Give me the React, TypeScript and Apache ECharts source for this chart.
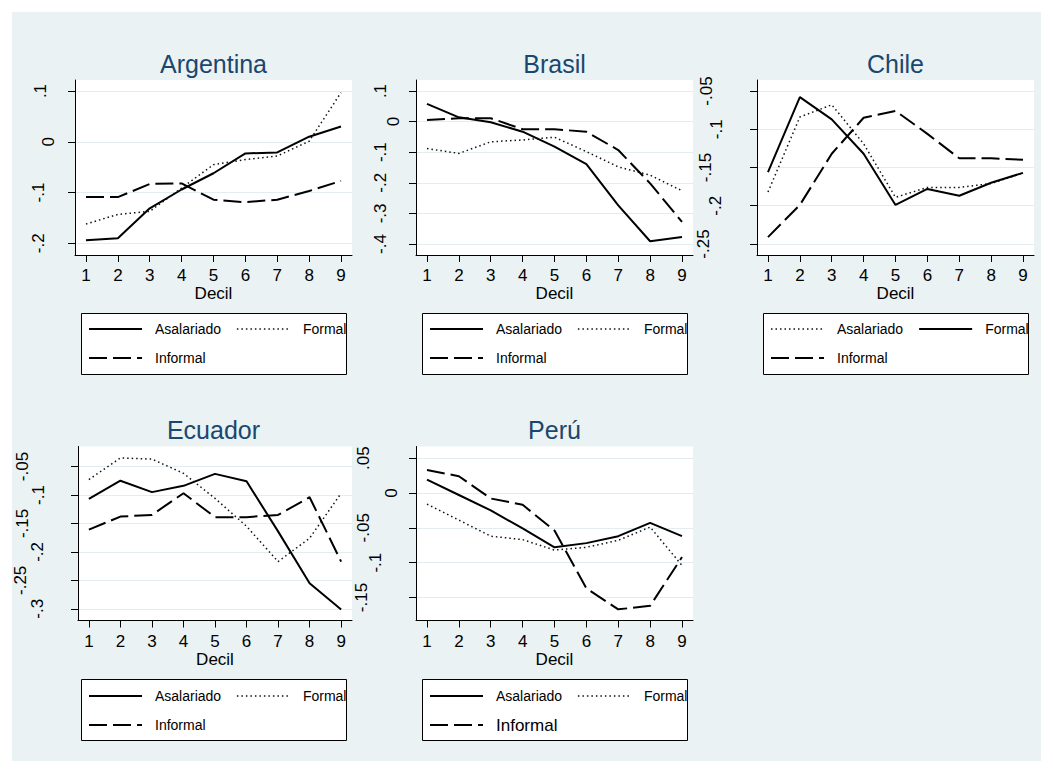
import React, { useEffect, useRef } from 'react';
import * as echarts from 'echarts';

// ---------------- DATA ----------------
const deciles = [1, 2, 3, 4, 5, 6, 7, 8, 9];

const argentinaAsalariado = [-0.194, -0.19, -0.131, -0.094, -0.062, -0.023, -0.021, 0.01, 0.03];
const argentinaFormal = [-0.162, -0.143, -0.137, -0.091, -0.045, -0.035, -0.028, 0.001, 0.097];
const argentinaInformal = [-0.109, -0.109, -0.083, -0.082, -0.114, -0.119, -0.114, -0.097, -0.077];
const argentinaTicks = [-0.2, -0.1, 0, 0.1];
const argentinaTickLabels = ['-.2', '-.1', '0', '.1'];

const brasilAsalariado = [0.058, 0.014, -0.002, -0.033, -0.082, -0.139, -0.274, -0.391, -0.377];
const brasilFormal = [-0.088, -0.104, -0.066, -0.06, -0.051, -0.098, -0.148, -0.175, -0.226];
const brasilInformal = [0.005, 0.011, 0.011, -0.025, -0.025, -0.033, -0.093, -0.202, -0.328];
const brasilTicks = [-0.4, -0.3, -0.2, -0.1, 0, 0.1];
const brasilTickLabels = ['-.4', '-.3', '-.2', '-.1', '0', '.1'];

const chileAsalariado = [-0.182, -0.084, -0.068, -0.119, -0.189, -0.176, -0.176, -0.171, -0.157];
const chileFormal = [-0.156, -0.058, -0.087, -0.132, -0.199, -0.178, -0.187, -0.17, -0.157];
const chileInformal = [-0.241, -0.199, -0.132, -0.085, -0.076, -0.106, -0.138, -0.138, -0.14];
const chileTicks = [-0.25, -0.2, -0.15, -0.1, -0.05];
const chileTickLabels = ['-.25', '-.2', '-.15', '-.1', '-.05'];

const ecuadorAsalariado = [-0.107, -0.075, -0.095, -0.084, -0.063, -0.076, -0.164, -0.255, -0.301];
const ecuadorFormal = [-0.073, -0.035, -0.037, -0.062, -0.106, -0.155, -0.217, -0.176, -0.097];
const ecuadorInformal = [-0.161, -0.138, -0.135, -0.097, -0.139, -0.139, -0.135, -0.104, -0.217];
const ecuadorTicks = [-0.3, -0.25, -0.2, -0.15, -0.1, -0.05];
const ecuadorTickLabels = ['-.3', '-.25', '-.2', '-.15', '-.1', '-.05'];

const peruAsalariado = [0.019, -0.003, -0.025, -0.051, -0.078, -0.072, -0.062, -0.043, -0.062];
const peruFormal = [-0.016, -0.039, -0.062, -0.067, -0.082, -0.078, -0.068, -0.049, -0.104];
const peruInformal = [0.033, 0.024, -0.008, -0.017, -0.054, -0.137, -0.167, -0.162, -0.092];
const peruTicks = [-0.15, -0.1, -0.05, 0, 0.05];
const peruTickLabels = ['-.15', '-.1', '-.05', '0', '.05'];

// ---------------- LAYOUT / STYLE ----------------
const OFF = 12;
const FONT = '"Liberation Sans", Arial, Helvetica, sans-serif';
const BG = '#eaf2f3';
const TITLE_COLOR = '#1a476f';
const COL_LEFT = [75, 416, 757];
const ROW_TOP = [80, 446.5];
const ROW_H = [175, 174];
const PLOT_W = 277;
const TITLE_TOP = [51, 417];
const BOX_TOP = [313, 679];
const LEGEND_TOP = [322, 689];
const AXIS_FONT = 17;

const LINE_STYLES: Record<string, any> = {
  solid: { color: '#000', width: 2, type: 'solid' },
  dotted: { color: '#111', width: 1.5, type: [1.5, 3] },
  dashed: { color: '#000', width: 2, type: [18, 6] },
};

type Panel = {
  title: string;
  col: number;
  row: number;
  yMin: number;
  yMax: number;
  ticks: number[];
  tickLabels: string[];
  labelDist: Record<string, number>;
  series: { name: string; data: number[]; style: string }[];
  informalFont?: number;
};

const panels: Panel[] = [
  {
    title: 'Argentina', col: 0, row: 0, yMin: -0.223, yMax: 0.1217,
    ticks: argentinaTicks, tickLabels: argentinaTickLabels,
    labelDist: { '.1': 28, '0': 20, '-.1': 30, '-.2': 30 },
    series: [
      { name: 'Asalariado', data: argentinaAsalariado, style: 'solid' },
      { name: 'Formal', data: argentinaFormal, style: 'dotted' },
      { name: 'Informal', data: argentinaInformal, style: 'dashed' },
    ],
  },
  {
    title: 'Brasil', col: 1, row: 0, yMin: -0.436, yMax: 0.136,
    ticks: brasilTicks, tickLabels: brasilTickLabels,
    labelDist: { '.1': 29, '0': 16, '-.1': 29, '-.2': 29, '-.3': 29, '-.4': 29 },
    series: [
      { name: 'Asalariado', data: brasilAsalariado, style: 'solid' },
      { name: 'Formal', data: brasilFormal, style: 'dotted' },
      { name: 'Informal', data: brasilInformal, style: 'dashed' },
    ],
  },
  {
    title: 'Chile', col: 2, row: 0, yMin: -0.2644, yMax: -0.0356,
    ticks: chileTicks, tickLabels: chileTickLabels,
    labelDist: { '-.05': 44, '-.1': 34, '-.15': 45, '-.2': 35, '-.25': 47 },
    series: [
      { name: 'Asalariado', data: chileAsalariado, style: 'dotted' },
      { name: 'Formal', data: chileFormal, style: 'solid' },
      { name: 'Informal', data: chileInformal, style: 'dashed' },
    ],
  },
  {
    title: 'Ecuador', col: 0, row: 1, yMin: -0.3205, yMax: -0.0149,
    ticks: ecuadorTicks, tickLabels: ecuadorTickLabels,
    labelDist: { '-.05': 49, '-.1': 33, '-.15': 49, '-.2': 34, '-.25': 51, '-.3': 34 },
    series: [
      { name: 'Asalariado', data: ecuadorAsalariado, style: 'solid' },
      { name: 'Formal', data: ecuadorFormal, style: 'dotted' },
      { name: 'Informal', data: ecuadorInformal, style: 'dashed' },
    ],
  },
  {
    title: 'Perú', col: 1, row: 1, yMin: -0.183, yMax: 0.0666,
    ticks: peruTicks, tickLabels: peruTickLabels,
    labelDist: { '.05': 46, '0': 18, '-.05': 46, '-.1': 34, '-.15': 48 },
    series: [
      { name: 'Asalariado', data: peruAsalariado, style: 'solid' },
      { name: 'Formal', data: peruFormal, style: 'dotted' },
      { name: 'Informal', data: peruInformal, style: 'dashed' },
    ],
    informalFont: 17,
  },
];

const LABEL_BASE = 10;

function buildOption() {
  const grid: any[] = [];
  const xAxis: any[] = [];
  const yAxis: any[] = [];
  const series: any[] = [];
  const title: any[] = [];
  const legend: any[] = [];
  const graphic: any[] = [];

  panels.forEach((p, i) => {
    const left = COL_LEFT[p.col] - OFF;
    const top = ROW_TOP[p.row] - OFF;
    grid.push({
      left, top, width: PLOT_W, height: ROW_H[p.row],
      show: true, backgroundColor: '#fff', borderWidth: 0,
    });

    xAxis.push({
      gridIndex: i, type: 'value', min: 0.655, max: 9.345,
      axisLine: { show: true, onZero: false, lineStyle: { color: '#000', width: 1 } },
      axisTick: { show: true, length: 7, customValues: deciles, lineStyle: { color: '#000' } },
      axisLabel: { show: true, customValues: deciles, margin: 12, fontSize: AXIS_FONT, color: '#000', fontFamily: FONT },
      splitLine: { show: false },
      name: 'Decil', nameLocation: 'middle', nameGap: 30,
      nameTextStyle: { fontSize: AXIS_FONT, color: '#000', fontFamily: FONT },
    });

    const rich: Record<string, any> = {};
    Object.values(p.labelDist).forEach((d) => {
      const pad = Math.max(0, Math.round(d - LABEL_BASE));
      rich['p' + pad] = { fontSize: AXIS_FONT, fontFamily: FONT, color: '#000', padding: [0, 0, pad, 0] };
    });

    yAxis.push({
      gridIndex: i, type: 'value', min: p.yMin, max: p.yMax,
      axisLine: { show: true, onZero: false, lineStyle: { color: '#000', width: 1 } },
      axisTick: { show: true, length: 7, customValues: p.ticks, lineStyle: { color: '#000' } },
      axisLabel: {
        show: true, customValues: p.ticks, rotate: 90, margin: 8, fontSize: AXIS_FONT, color: '#000', fontFamily: FONT,
        formatter: (v: number) => {
          const idx = p.ticks.findIndex((t) => Math.abs(t - v) < 1e-9);
          const lbl = idx >= 0 ? p.tickLabels[idx] : String(v);
          const pad = Math.max(0, Math.round((p.labelDist[lbl] ?? LABEL_BASE) - LABEL_BASE));
          return `{p${pad}|${lbl}}`;
        },
        rich,
      },
      splitLine: { show: true, lineStyle: { color: '#e3ecee', width: 1 } },
    });

    p.series.forEach((s) => {
      series.push({
        type: 'line',
        name: `${p.title}|${s.name}`,
        xAxisIndex: i, yAxisIndex: i,
        data: deciles.map((d, k) => [d, s.data[k]]),
        symbol: 'none', showSymbol: false, silent: true,
        lineStyle: { ...LINE_STYLES[s.style], cap: 'butt' },
        itemStyle: { color: LINE_STYLES[s.style].color },
      });
    });

    title.push({
      text: p.title,
      left: COL_LEFT[p.col] + PLOT_W / 2 - OFF,
      top: TITLE_TOP[p.row] - OFF,
      textAlign: 'center',
      padding: 0,
      textStyle: { fontSize: 25, fontWeight: 'normal', color: TITLE_COLOR, fontFamily: FONT },
    });

    legend.push({
      left: COL_LEFT[p.col] + 13 - OFF,
      top: LEGEND_TOP[p.row] - OFF,
      width: 280, padding: 0, orient: 'horizontal',
      itemWidth: 53, itemHeight: 14, itemGap: 15, selectedMode: false,
      data: p.series.map((s) => {
        const item: any = { name: `${p.title}|${s.name}` };
        if (s.name === 'Informal' && p.informalFont) item.textStyle = { fontSize: p.informalFont };
        return item;
      }),
      formatter: (n: string) => n.split('|')[1],
      textStyle: { fontSize: 14, color: '#000', fontFamily: FONT, padding: [0, 4, 0, 8] },
      itemStyle: { opacity: 0 },
      lineStyle: { width: 'inherit' },
    });

    graphic.push({
      type: 'rect', z: 1,
      shape: { x: COL_LEFT[p.col] + 6.5 - OFF, y: BOX_TOP[p.row] - OFF + 0.5, width: 265, height: 61 },
      style: { fill: '#fff', stroke: '#000', lineWidth: 1 },
    });
  });

  return {
    animation: false,
    backgroundColor: BG,
    textStyle: { fontFamily: FONT },
    grid, xAxis, yAxis, series, title, legend, graphic,
  };
}

export default function App() {
  const ref = useRef<HTMLDivElement>(null);
  useEffect(() => {
    if (!ref.current) return;
    const chart = echarts.init(ref.current, null, { renderer: 'svg' });
    chart.setOption(buildOption() as any);
    return () => chart.dispose();
  }, []);
  return (
    <div style={{ position: 'absolute', left: 0, top: 0, width: 1053, height: 773, background: '#fff' }}>
      <div ref={ref} style={{ position: 'absolute', left: OFF, top: OFF, width: 1029, height: 749 }} />
    </div>
  );
}
